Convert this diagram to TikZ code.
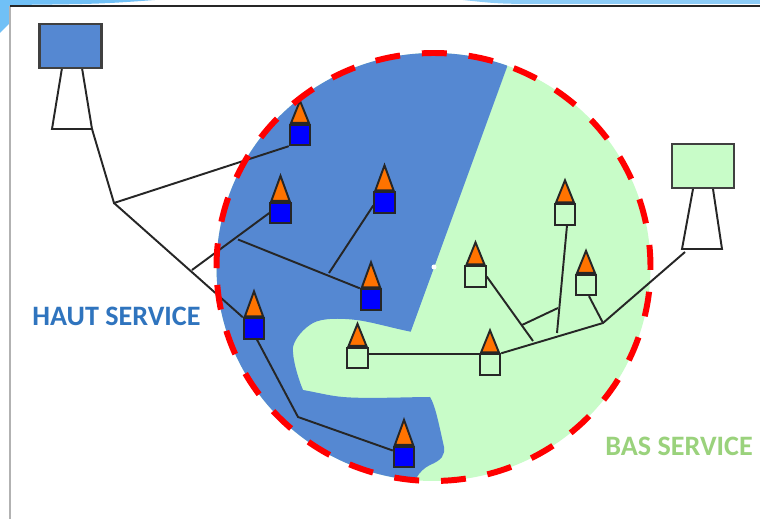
\documentclass[tikz,border=0pt]{standalone}
\usepackage{fontspec}
\setmainfont{Carlito}
\usetikzlibrary{positioning,shapes.geometric}
\definecolor{hautblue}{HTML}{5588D2}
\definecolor{basgreen}{HTML}{C8FCC8}
\definecolor{slideblue}{HTML}{70C0F6}
\definecolor{hauttext}{HTML}{2F74BE}
\definecolor{bastext}{HTML}{9AD27C}
\tikzset{
  link/.style={draw=black!85,line width=1.1pt},
  hcell/.style={draw=black!85,line width=1.1pt,fill=blue,minimum size=0.41cm,inner sep=0pt},
  bcell/.style={draw=black!85,line width=1.1pt,fill=basgreen,minimum size=0.41cm,inner sep=0pt},
  roof/.style={draw=black!85,line width=1.1pt,fill=orange!90!red,isosceles triangle,isosceles triangle apex angle=40,shape border rotate=90,minimum height=0.5cm,inner sep=1pt},
  lowroof/.style={roof,isosceles triangle apex angle=44,minimum height=0.44cm},
  mast/.style={draw=black!85,line width=1.1pt,fill=white},
  station/.style={draw=black!75,line width=1.2pt,minimum width=1.24cm,minimum height=0.88cm,inner sep=0pt},
  zone/.style={font=\fontsize{16}{18}\selectfont\bfseries}
}
\begin{document}
\begin{tikzpicture}[x=0.02cm,y=-0.02cm]
\useasboundingbox (0,0) rectangle (760,519);
% slide frame
\fill[white] (0,0) rectangle (760,519);
\fill[slideblue] (0,0) -- (155,0) .. controls (100,4) .. (10,5) -- (10,23) -- (0,33) -- cycle;
\fill[slideblue!80!white] (463,0) .. controls (500,4) .. (560,4) -- (760,4) -- (760,0) -- cycle;
\draw[black!30,line width=1pt] (10,6) -- (10,519);
\draw[black!85,line width=1.2pt] (10,6) -- (760,6);
% service areas
\fill[basgreen] (433.5,267) ellipse [x radius=217,y radius=214];
\begin{scope}
\clip (433.5,267) ellipse [x radius=217,y radius=214];
\fill[hautblue] (510,40) -- (507,67) -- (410.7,331.7)
  .. controls (392,328) and (372,322) .. (356.7,320)
  .. controls (340,318) and (322,318) .. (313,323)
  .. controls (304,328) and (295,338) .. (293,347)
  .. controls (292,358) and (298,378) .. (303,390)
  .. controls (315,392) and (330,396) .. (343,397)
  .. controls (365,399) and (410,397) .. (430,397)
  .. controls (435,405) and (438,420) .. (444,447)
  .. controls (445,455) and (442,460) .. (430,465)
  .. controls (424,468) and (420,472) .. (417,477)
  -- (417,495) -- (200,495) -- (200,40) -- cycle;
\end{scope}
\fill[white] (434,267) circle (2.5);
% stations
\coordinate (hfoot) at (92,129);
\coordinate (bfoot) at (685,252);
\draw [mast] (62,68) -- (52,129) -- (hfoot) -- (82,68);
\draw [mast] (693,189) -- (682,249) -- (722,249) -- (713,189);
\node [station,fill=hautblue] (hstation) at (70.5,46) {};
\node [station,fill=basgreen] (bstation) at (703,166) {};
% haut service
\node [hcell] (h1) at (300,135) {};
\node [lowroof,above=0pt of h1] (rh1) {};
\node [hcell] (h2) at (280.5,213) {};
\node [roof,above=0pt of h2] (rh2) {};
\node [hcell] (h3) at (384.5,202.5) {};
\node [roof,above=0pt of h3] (rh3) {};
\node [hcell] (h4) at (371,299.5) {};
\node [roof,above=0pt of h4] (rh4) {};
\node [hcell] (h5) at (254,328.5) {};
\node [roof,above=0pt of h5] (rh5) {};
\node [hcell] (h6) at (404,457) {};
\node [roof,above=0pt of h6] (rh6) {};
% bas service
\node [bcell] (b1) at (357.5,358) {};
\node [lowroof,above=0pt of b1] (rb1) {};
\node [bcell] (b2) at (490,364.5) {};
\node [lowroof,above=0pt of b2] (rb2) {};
\node [bcell] (b3) at (475.5,276.5) {};
\node [lowroof,above=0pt of b3] (rb3) {};
\node [bcell] (b4) at (565,214.5) {};
\node [lowroof,above=0pt of b4] (rb4) {};
\node [bcell] (b5) at (586,285) {};
\node [lowroof,above=0pt of b5] (rb5) {};
% junctions
\coordinate (hj1) at (114,203);
\coordinate (hj2) at (192,270);
\coordinate (hj3) at (238,239.5);
\coordinate (hj4) at (329,273);
\coordinate (hj5) at (298,417);
\coordinate (bj1) at (603,323);
\coordinate (bj2) at (533,341);
\coordinate (bj3) at (522,325);
\coordinate (bj4) at (558,308);
\coordinate (bj5) at (557,333);
% links
\draw [link] (hfoot) -- (hj1) -- (h1.south west);
\draw [link] (hj1) -- (h5.north west);
\draw [link] (hj2) -- (h2.west);
\draw [link] (hj3) -- (h4.north west);
\draw [link] (hj4) -- (h3.195);
\draw [link] (h5.-75) -- (hj5) -- (h6.150);
\draw [link] (b1.20) -- (b1.20 -| b2.north west);
\draw [link] (b2.north east) -- (bj1) -- (bfoot);
\draw [link] (b3.east) -- (bj2);
\draw [link] (bj3) -- (bj4);
\draw [link] (b4.-80) -- (bj5);
\draw [link] (b5.-75) -- (bj1);
% coverage limit
\draw [red,line width=3.4pt,dash pattern=on 14.2pt off 12.48pt] (433.5,267) ++(175.2:217 and 214) arc [start angle=175.2,end angle=-184.8,x radius=217,y radius=214];
% labels
\node [zone,text=hauttext] (hlabel) at (116.5,316) {HAUT SERVICE};
\node [zone,text=bastext] (blabel) at (679,446) {BAS SERVICE};
\end{tikzpicture}
\end{document}
